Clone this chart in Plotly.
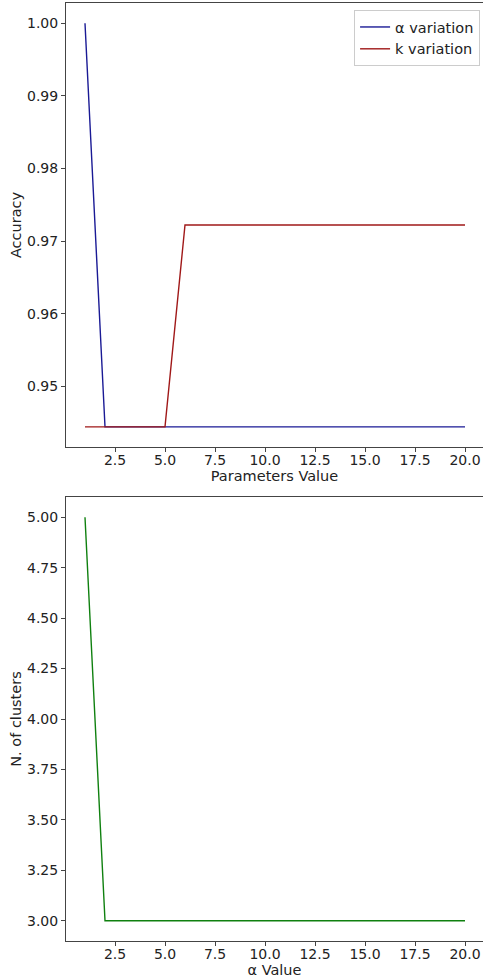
import plotly.graph_objects as go
from plotly.subplots import make_subplots

param_values = list(range(1, 21))
alpha_accuracy = [1.0] + [0.94444] * 19
k_accuracy = [0.94444] * 5 + [0.97222] * 15
alpha_values = list(range(1, 21))
n_clusters = [5] + [3] * 19

fig = make_subplots(rows=2, cols=1)

fig.add_trace(go.Scatter(x=param_values, y=alpha_accuracy, mode="lines", name="α variation",
                         line=dict(color="#1a1a95", width=1.4)), row=1, col=1)
fig.add_trace(go.Scatter(x=param_values, y=k_accuracy, mode="lines", name="k variation",
                         line=dict(color="#a01818", width=1.4)), row=1, col=1)
fig.add_trace(go.Scatter(x=alpha_values, y=n_clusters, mode="lines", name="clusters",
                         line=dict(color="#0f800f", width=1.4), showlegend=False), row=2, col=1)

font = dict(family="DejaVu Sans", size=14, color="#222")
axis_common = dict(showline=True, mirror=True, linecolor="#444", linewidth=1, ticks="outside",
                   ticklen=4, tickcolor="#444", showgrid=False, zeroline=False, automargin=False,
                   tickfont=dict(family="DejaVu Sans", size=14, color="#222"))

fig.update_layout(
    width=483, height=980, plot_bgcolor="white", paper_bgcolor="white",
    margin=dict(l=66, r=0, t=3, b=39), font=font,
    legend=dict(x=0.993, y=0.9925, xanchor="right", yanchor="top", bordercolor="#cccccc",
                borderwidth=1, bgcolor="rgba(255,255,255,0.8)", font=dict(size=14.5),
                tracegroupgap=0),
)
fig.update_xaxes(**axis_common, ticklabelstandoff=-4)
fig.update_yaxes(**axis_common)

xt = [2.5, 5, 7.5, 10, 12.5, 15, 17.5, 20]
xtt = ["2.5", "5.0", "7.5", "10.0", "12.5", "15.0", "17.5", "20.0"]
fig.update_xaxes(domain=[0, 1], range=[0.05, 20.9], tickvals=xt, ticktext=xtt,
                 title=dict(text="Parameters Value", standoff=2, font=dict(size=14.5)), row=1, col=1)
fig.update_yaxes(domain=[0.5267, 1], range=[0.94167, 1.00278],
                 tickvals=[0.95, 0.96, 0.97, 0.98, 0.99, 1.0],
                 ticktext=["0.95", "0.96", "0.97", "0.98", "0.99", "1.00"],
                 title=dict(text="Accuracy", standoff=1, font=dict(size=14.5)), row=1, col=1)
fig.update_xaxes(domain=[0, 1], range=[0.05, 20.9], tickvals=xt, ticktext=xtt,
                 title=dict(text="α Value", standoff=2, font=dict(size=14.5)), row=2, col=1)
fig.update_yaxes(domain=[0, 0.4733], range=[2.9, 5.1],
                 tickvals=[3.0, 3.25, 3.5, 3.75, 4.0, 4.25, 4.5, 4.75, 5.0],
                 ticktext=["3.00", "3.25", "3.50", "3.75", "4.00", "4.25", "4.50", "4.75", "5.00"],
                 title=dict(text="N. of clusters", standoff=1, font=dict(size=14.5)), row=2, col=1)

fig.write_html("out.html", config={"displayModeBar": False},
               post_script="document.body.style.margin='0';document.body.style.overflow='hidden';")
